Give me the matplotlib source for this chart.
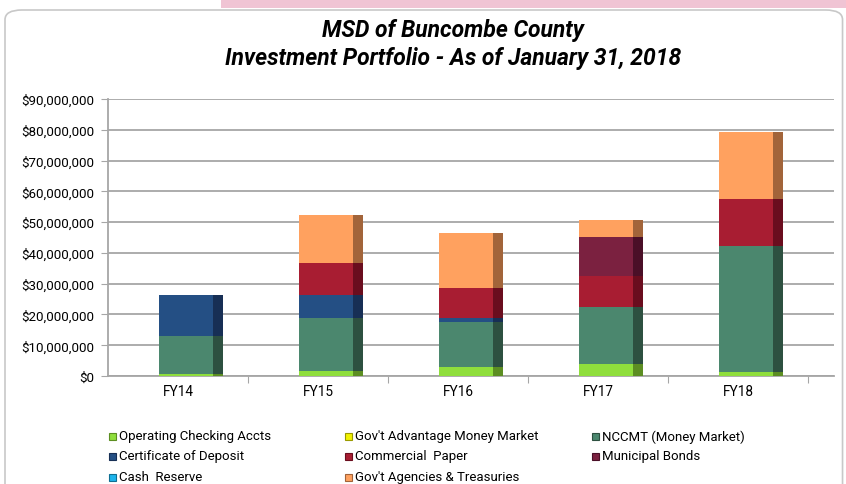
import matplotlib
matplotlib.use("Agg")
import matplotlib.pyplot as plt
from matplotlib.patches import FancyBboxPatch, Rectangle
from matplotlib.ticker import FuncFormatter, FixedLocator
import numpy as np

# values in $ millions
years = ["FY14", "FY15", "FY16", "FY17", "FY18"]
operating = [0.5, 1.7, 2.8, 3.9, 1.4]
govt_adv = [0.0, 0.0, 0.0, 0.0, 0.0]
nccmt = [12.6, 17.1, 14.6, 18.6, 40.7]
cert_dep = [13.1, 7.5, 1.4, 0.0, 0.0]
comm_paper = [0.0, 10.5, 9.7, 10.1, 15.5]
muni_bonds = [0.0, 0.0, 0.0, 12.7, 0.0]
cash_reserve = [0.0, 0.0, 0.0, 0.0, 0.0]
agencies = [0.0, 15.6, 18.0, 5.4, 21.6]

series = [
    ("Operating Checking Accts", operating, "#8fde3c", "#5c8e22"),
    ("Gov't Advantage Money Market", govt_adv, "#f2f200", "#9a9a00"),
    ("NCCMT (Money Market)", nccmt, "#4b876e", "#2d5040"),
    ("Certificate of Deposit", cert_dep, "#244f84", "#172f55"),
    ("Commercial  Paper", comm_paper, "#a81d32", "#6a0d1e"),
    ("Municipal Bonds", muni_bonds, "#7b2140", "#4a0f27"),
    ("Cash  Reserve", cash_reserve, "#1db4ec", "#0f6f93"),
    ("Gov't Agencies & Treasuries", agencies, "#ffa15f", "#a2643a"),
]

plt.rcParams["font.family"] = ["Roboto", "DejaVu Sans"]

fig = plt.figure(figsize=(8.46, 4.85), dpi=100)
W, H = 846, 485

# card border and the pink strip above it
card = FancyBboxPatch((5 / W, -0.05), 0.99, (H - 11) / H + 0.05,
                      boxstyle="round,pad=0,rounding_size=0.02",
                      transform=fig.transFigure, fc="white", ec="#c8c8c8",
                      lw=1.2, zorder=-5)
fig.patches.append(card)
fig.patches.append(Rectangle((221 / W, (H - 9) / H), 1, 9 / H,
                             transform=fig.transFigure, fc="#f0c4d4", ec="none",
                             zorder=-4))

ax = fig.add_axes([108 / W, (H - 377) / H, (834 - 108) / W, 277 / H])
ax.patch.set_alpha(0)

x = np.arange(len(years)) + 0.59
width = 0.457
side = 0.065
bottom = np.zeros(len(years))
for name, vals, col, dark in series:
    vals = np.array(vals)
    ax.bar(x, vals, width, bottom=bottom, color=col, zorder=3)
    ax.bar(x + width / 2 - side / 2, vals, side, bottom=bottom, color=dark, zorder=4)
    bottom += vals

ax.set_xlim(0, 726 / 140)
ax.set_ylim(0, 90)
ax.set_yticks(np.arange(0, 91, 10))
ax.yaxis.set_major_formatter(FuncFormatter(lambda v, p: "${:,.0f}".format(v * 1e6)))
ax.grid(axis="y", color="#a6a6a6", lw=1.3, zorder=0)

ax.xaxis.set_major_locator(FixedLocator(range(1, len(years) + 1)))
ax.xaxis.set_minor_locator(FixedLocator(np.arange(len(years)) + 0.5))
ax.set_xticklabels([], minor=False)
ax.set_xticklabels(years, minor=True)
ax.tick_params(axis="x", which="major", length=5, color="#a6a6a6", direction="out")
ax.tick_params(axis="x", which="minor", length=0, labelsize=9.8, pad=6)
ax.tick_params(axis="y", length=5, color="#a6a6a6", labelsize=9.6, pad=5)

for s in ["top", "right"]:
    ax.spines[s].set_visible(False)
for s in ["left", "bottom"]:
    ax.spines[s].set_color("#a6a6a6")
    ax.spines[s].set_linewidth(1.3)

fig.text(453 / W, (H - 30) / H, "MSD of Buncombe County", ha="center", va="center",
         fontsize=16.5, fontweight="bold", fontstyle="italic")
fig.text(453 / W, (H - 58) / H, "Investment Portfolio - As of January 31, 2018",
         ha="center", va="center", fontsize=16.5, fontweight="bold", fontstyle="italic")

# legend, filled row by row like the original
col_x = [112, 348, 595]
row_y = [437, 457, 478]
for i, (name, _, col, dark) in enumerate(series):
    cx = col_x[i % 3]
    cy = row_y[i // 3]
    fig.patches.append(Rectangle(((cx - 3.5) / W, (H - cy - 3.5) / H), 7 / W, 7 / H,
                                 transform=fig.transFigure, fc=col, ec=dark, lw=0.8))
    fig.text((cx + 7) / W, (H - cy) / H, name, ha="left", va="center", fontsize=9.5)

fig.savefig("out.png", dpi=100)
